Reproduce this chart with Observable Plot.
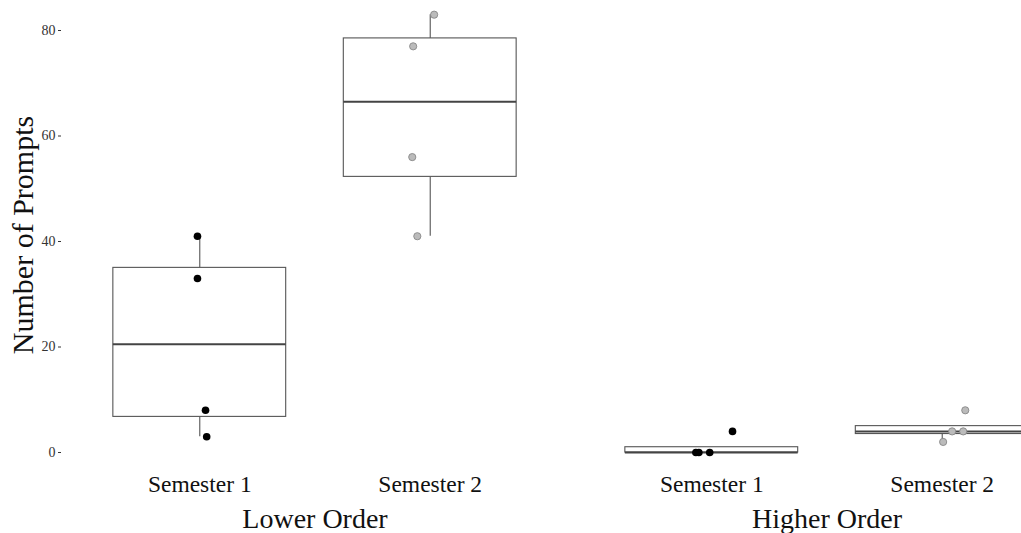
<!DOCTYPE html>
<html><head><meta charset="utf-8">
<script src="https://cdn.jsdelivr.net/npm/d3@7"></script>
<script src="https://cdn.jsdelivr.net/npm/@observablehq/plot@0.6"></script>
<style>
html,body{margin:0;padding:0;background:#fff;}
#chart svg{display:block;}
</style>
</head><body><div id="chart"></div>
<script>
// ---- data ----
const groups = ["Lower Order", "Higher Order"];
const semesters = ["Semester 1", "Semester 2"];
const lowerSem1 = [41, 33, 8, 3];
const lowerSem2 = [83, 77, 56, 41];
const higherSem1 = [0, 0, 0, 4];
const higherSem2 = [8, 4, 4, 2];
const yTicks = [0, 20, 40, 60, 80];
// horizontal jitter of each point (in category units)
const jitterLowerSem1 = [-0.01, -0.01, 0.025, 0.03];
const jitterLowerSem2 = [0.017, -0.074, -0.078, -0.056];
const jitterHigherSem1 = [-0.069, -0.056, -0.009, 0.09];
const jitterHigherSem2 = [0.1, 0.043, 0.091, 0.004];

const series = [
  {group: groups[0], semester: semesters[0], values: lowerSem1, jitter: jitterLowerSem1},
  {group: groups[0], semester: semesters[1], values: lowerSem2, jitter: jitterLowerSem2},
  {group: groups[1], semester: semesters[0], values: higherSem1, jitter: jitterHigherSem1},
  {group: groups[1], semester: semesters[1], values: higherSem2, jitter: jitterHigherSem2}
];

const points = series.flatMap(s => s.values.map((v, i) => ({
  group: s.group, semester: s.semester, pos: semesters.indexOf(s.semester) + 1,
  value: v, xj: semesters.indexOf(s.semester) + 1 + s.jitter[i]
})));

const halfWidth = 0.375;
const stats = series.map(s => {
  const v = s.values.slice().sort(d3.ascending);
  const q1 = d3.quantile(v, 0.25), med = d3.quantile(v, 0.5), q3 = d3.quantile(v, 0.75);
  const iqr = q3 - q1;
  const hi = d3.max(v.filter(d => d <= q3 + 1.5 * iqr));
  const lo = d3.min(v.filter(d => d >= q1 - 1.5 * iqr));
  const pos = semesters.indexOf(s.semester) + 1;
  return {group: s.group, semester: s.semester, pos, x1: pos - halfWidth, x2: pos + halfWidth, q1, med, q3, hi, lo};
});
const whiskers = stats.flatMap(s => [
  ...(s.hi > s.q3 ? [{group: s.group, pos: s.pos, y1: s.q3, y2: s.hi}] : []),
  ...(s.lo < s.q1 ? [{group: s.group, pos: s.pos, y1: s.lo, y2: s.q1}] : [])
]);

const font = "'Liberation Serif', 'Times New Roman', 'DejaVu Serif', serif";

const chart = Plot.plot({
  width: 1021,
  height: 533,
  marginTop: 0,
  marginBottom: 60,
  marginLeft: 61,
  marginRight: 0,
  style: {fontFamily: font, background: "#fff", color: "#000"},
  facet: {marginLeft: 0, marginRight: 0, marginTop: 0, marginBottom: 0},
  fx: {domain: groups, range: [60.5, 1080], paddingInner: 0.009, paddingOuter: 0, axis: null, label: null},
  x: {domain: [0.4, 2.6], axis: null},
  y: {domain: [0, 80], range: [452, 30], axis: null},
  marks: [
    Plot.axisY({ticks: yTicks, tickSize: 3, tickPadding: 3, fontSize: 14, label: null, color: "#333"}),
    Plot.axisX({ticks: [1, 2], tickFormat: d => semesters[d - 1], tickSize: 0, tickPadding: 2, fontSize: 23.5, label: null, color: "#111"}),
    Plot.text(["Number of Prompts"], {fx: ["Lower Order"], text: d => d, frameAnchor: "left", textAnchor: "middle", dx: -29, dy: -2, rotate: -90, lineAnchor: "bottom", fontSize: 30, fill: "#111"}),
    Plot.text(groups, {fx: d => d, text: d => d, frameAnchor: "bottom", textAnchor: "middle", lineAnchor: "bottom", dy: 54, fontSize: 28, fill: "#111"}),
    Plot.ruleX(whiskers, {fx: "group", x: "pos", y1: "y1", y2: "y2", stroke: "#555", strokeWidth: 1.1}),
    Plot.rectY(stats, {fx: "group", x1: "x1", x2: "x2", y1: "q1", y2: "q3", fill: "white", stroke: "#555", strokeWidth: 1.1}),
    Plot.ruleY(stats, {fx: "group", x1: "x1", x2: "x2", y: "med", stroke: "#444", strokeWidth: 2}),
    Plot.dot(points.filter(d => d.semester === semesters[0]), {fx: "group", x: "xj", y: "value", r: 3.8, fill: "#000", stroke: "none"}),
    Plot.dot(points.filter(d => d.semester === semesters[1]), {fx: "group", x: "xj", y: "value", r: 3.6, fill: "#bbbbbb", stroke: "#888", strokeWidth: 0.9})
  ]
});
document.getElementById("chart").appendChild(chart);
</script>
</body></html>
